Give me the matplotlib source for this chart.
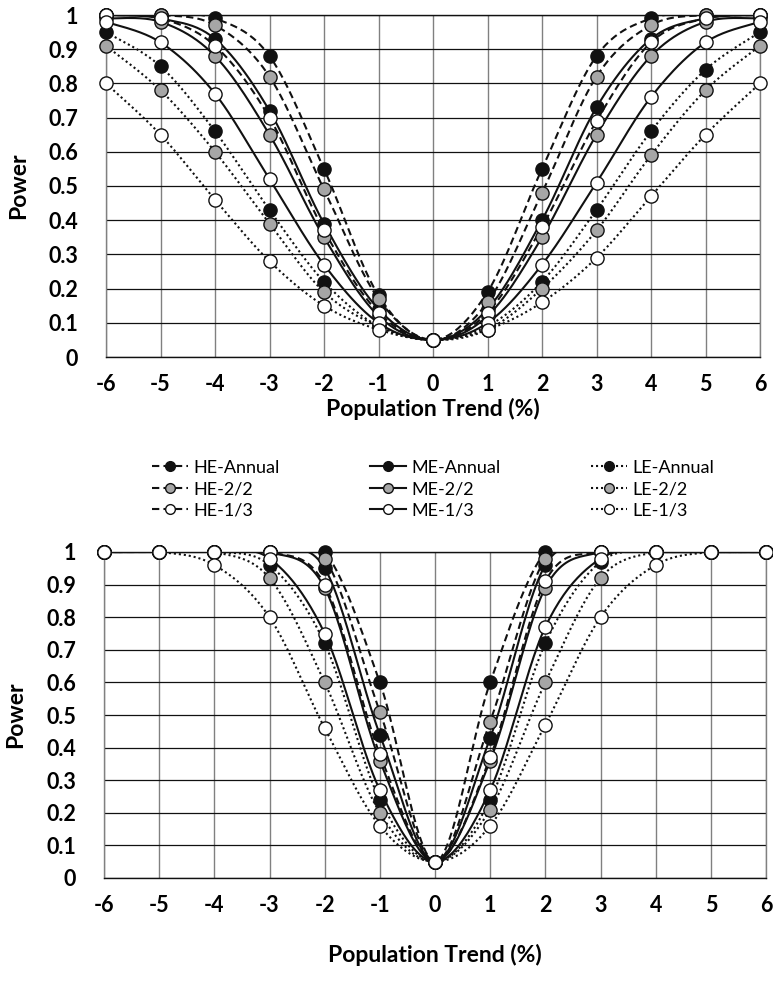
import matplotlib
matplotlib.use('Agg')
import numpy as np
import matplotlib.pyplot as plt
from matplotlib.lines import Line2D

plt.rcParams['font.family'] = ['Lato', 'DejaVu Sans']

# Datos
trend = [-6, -5, -4, -3, -2, -1, 0, 1, 2, 3, 4, 5, 6]

# panel superior
top_he_annual = [1.00, 1.00, 0.99, 0.88, 0.55, 0.18, 0.05, 0.19, 0.55, 0.88, 0.99, 1.00, 1.00]
top_me_annual = [1.00, 0.99, 0.93, 0.72, 0.39, 0.14, 0.05, 0.14, 0.40, 0.73, 0.93, 0.99, 1.00]
top_le_annual = [0.95, 0.85, 0.66, 0.43, 0.22, 0.09, 0.05, 0.09, 0.22, 0.43, 0.66, 0.84, 0.95]
top_he_22 = [1.00, 1.00, 0.97, 0.82, 0.49, 0.17, 0.05, 0.16, 0.48, 0.82, 0.97, 1.00, 1.00]
top_me_22 = [0.99, 0.98, 0.88, 0.65, 0.35, 0.12, 0.05, 0.12, 0.35, 0.65, 0.88, 0.98, 0.99]
top_le_22 = [0.91, 0.78, 0.60, 0.39, 0.19, 0.09, 0.05, 0.08, 0.20, 0.37, 0.59, 0.78, 0.91]
top_he_13 = [1.00, 0.99, 0.91, 0.70, 0.37, 0.13, 0.05, 0.13, 0.38, 0.69, 0.92, 0.99, 1.00]
top_me_13 = [0.98, 0.92, 0.77, 0.52, 0.27, 0.10, 0.05, 0.10, 0.27, 0.51, 0.76, 0.92, 0.98]
top_le_13 = [0.80, 0.65, 0.46, 0.28, 0.15, 0.08, 0.05, 0.08, 0.16, 0.29, 0.47, 0.65, 0.80]

# panel inferior
bot_he_annual = [1, 1, 1, 1.00, 1.00, 0.60, 0.05, 0.60, 1.00, 1.00, 1, 1, 1]
bot_me_annual = [1, 1, 1, 1.00, 0.95, 0.44, 0.05, 0.43, 0.96, 1.00, 1, 1, 1]
bot_le_annual = [1, 1, 1, 0.96, 0.72, 0.24, 0.05, 0.24, 0.72, 0.97, 1, 1, 1]
bot_he_22 = [1, 1, 1, 1.00, 0.98, 0.51, 0.05, 0.48, 0.98, 1.00, 1, 1, 1]
bot_me_22 = [1, 1, 1, 1.00, 0.89, 0.36, 0.05, 0.36, 0.89, 1.00, 1, 1, 1]
bot_le_22 = [1, 1, 1, 0.92, 0.60, 0.20, 0.05, 0.21, 0.60, 0.92, 1, 1, 1]
bot_he_13 = [1, 1, 1, 1.00, 0.90, 0.38, 0.05, 0.37, 0.91, 1.00, 1, 1, 1]
bot_me_13 = [1, 1, 1, 0.98, 0.75, 0.27, 0.05, 0.27, 0.77, 0.98, 1, 1, 1]
bot_le_13 = [1, 1, 0.96, 0.80, 0.46, 0.16, 0.05, 0.16, 0.47, 0.80, 0.96, 1, 1]

labels = ['HE-Annual', 'ME-Annual', 'LE-Annual',
          'HE-2/2', 'ME-2/2', 'LE-2/2',
          'HE-1/3', 'ME-1/3', 'LE-1/3']

top_series = [top_he_annual, top_me_annual, top_le_annual,
              top_he_22, top_me_22, top_le_22,
              top_he_13, top_me_13, top_le_13]
bot_series = [bot_he_annual, bot_me_annual, bot_le_annual,
              bot_he_22, bot_me_22, bot_le_22,
              bot_he_13, bot_me_13, bot_le_13]

estilos = {'HE': (0, (3.5, 2)), 'ME': '-', 'LE': (0, (1, 1.4))}
rellenos = {'Annual': '#111111', '2/2': '#a6a6a6', '1/3': 'white'}


def suavizar(x, y, n=25):
    # curva suavizada tipo Excel (Bezier / Catmull-Rom)
    pts = np.column_stack([x, y]).astype(float)
    P = np.vstack([pts[0], pts, pts[-1]])
    t = np.linspace(0, 1, n)[:, None]
    trozos = []
    for i in range(1, len(P) - 2):
        p0, p1, p2, p3 = P[i - 1], P[i], P[i + 1], P[i + 2]
        c1 = p1 + (p2 - p0) / 6
        c2 = p2 - (p3 - p1) / 6
        B = (1 - t)**3 * p1 + 3 * (1 - t)**2 * t * c1 + 3 * (1 - t) * t**2 * c2 + t**3 * p2
        trozos.append(B)
    c = np.vstack(trozos)
    return c[:, 0], c[:, 1]


def dibujar(ax, series, xpad):
    for lab, y in zip(labels, series):
        grupo, tipo = lab.split('-')
        xs, ys = suavizar(trend, y)
        ax.plot(xs, ys, color='#111111', linestyle=estilos[grupo], lw=1.5, zorder=3)
    for lab, y in zip(labels, series):
        grupo, tipo = lab.split('-')
        ax.plot(trend, y, linestyle='none', marker='o', markersize=9.5,
                markerfacecolor=rellenos[tipo], markeredgecolor='#111111',
                markeredgewidth=1.0, zorder=4, clip_on=False)

    ax.set_xlim(-6, 6)
    ax.set_ylim(0, 1)
    ax.set_xticks(trend)
    ax.set_xticklabels([str(v) for v in trend])
    yt = np.round(np.arange(0, 1.01, 0.1), 1)
    ax.set_yticks(yt)
    ax.set_yticklabels(['0'] + ['%.1f' % v for v in yt[1:-1]] + ['1'])
    ax.tick_params(length=0, labelsize=15.5, pad=20, axis='y')
    ax.tick_params(length=0, labelsize=15.5, pad=12, axis='x')
    for l in ax.get_xticklabels() + ax.get_yticklabels():
        l.set_fontweight('bold')
    ax.yaxis.grid(True, color='#111111', lw=0.9)
    ax.xaxis.grid(True, color='#808080', lw=1.0)
    ax.set_axisbelow(True)
    ax.spines['left'].set_color('#808080')
    ax.spines['right'].set_color('#808080')
    ax.spines['top'].set_color('#111111')
    ax.spines['bottom'].set_color('#111111')
    for s in ax.spines.values():
        s.set_linewidth(1.0)
    ax.set_xlabel('Population Trend (%)', fontsize=16.5, fontweight='bold', labelpad=xpad)
    ax.set_ylabel('Power', fontsize=16.5, fontweight='bold')
    ax.yaxis.set_label_coords(-0.118, 0.5)


fig = plt.figure(figsize=(7.73, 9.86), dpi=100)
ax1 = fig.add_axes([106 / 773, 1 - 357 / 986, 654 / 773, 342 / 986])
ax2 = fig.add_axes([104 / 773, 1 - 878 / 986, 662 / 773, 326 / 986])

dibujar(ax1, top_series, 2)
dibujar(ax2, bot_series, 20)

# leyenda 3x3 (se rellena por columnas)
handles = []
orden = [0, 3, 6, 1, 4, 7, 2, 5, 8]
for k in orden:
    grupo, tipo = labels[k].split('-')
    handles.append(Line2D([], [], color='#111111', linestyle=estilos[grupo], lw=1.5,
                          marker='o', markersize=7, markerfacecolor=rellenos[tipo],
                          markeredgecolor='#111111', markeredgewidth=1.0))
fig.legend(handles, [labels[k] for k in orden], ncol=3, loc='center',
           bbox_to_anchor=(433 / 773, 1 - 489 / 986), frameon=False,
           fontsize=13, handlelength=2.0, handletextpad=0.3,
           columnspacing=5.0, labelspacing=0.3)

plt.savefig('out.png', dpi=100)
